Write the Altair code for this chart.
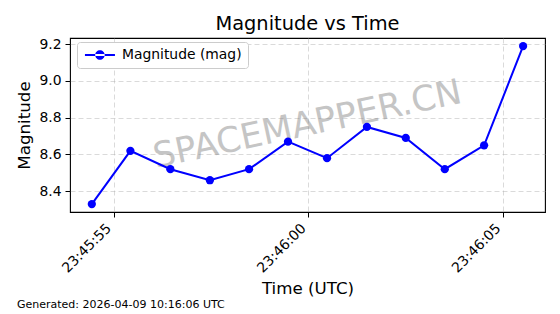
import altair as alt
import pandas as pd

# ---- data ----
times = [
    "2026-04-08T23:45:54.440Z", "2026-04-08T23:45:55.430Z", "2026-04-08T23:45:56.455Z",
    "2026-04-08T23:45:57.470Z", "2026-04-08T23:45:58.475Z", "2026-04-08T23:45:59.475Z",
    "2026-04-08T23:46:00.476Z", "2026-04-08T23:46:01.500Z", "2026-04-08T23:46:02.497Z",
    "2026-04-08T23:46:03.498Z", "2026-04-08T23:46:04.507Z", "2026-04-08T23:46:05.508Z",
]
mags = [8.33, 8.62, 8.52, 8.46, 8.52, 8.67, 8.58, 8.75, 8.69, 8.52, 8.65, 9.19]
series_name = "Magnitude (mag)"
x_ticks = ["2026-04-08T23:45:55Z", "2026-04-08T23:46:00Z", "2026-04-08T23:46:05Z"]
x_domain = ["2026-04-08T23:45:53.880Z", "2026-04-08T23:46:06.070Z"]
y_ticks = [8.4, 8.6, 8.8, 9.0, 9.2]
y_domain = [8.287, 9.234]
title_text = "Magnitude vs Time"
x_title = "Time (UTC)"
y_title = "Magnitude"
watermark_text = "SPACEMAPPER.CN"
footer_text = "Generated: 2026-04-09 10:16:06 UTC"


def ms(s):
    return int(pd.Timestamp(s).value // 10**6)


df = pd.DataFrame({"time": times, "mag": mags, "series": [series_name] * len(mags)})
wm_df = pd.DataFrame({"label": [watermark_text]})
ft_df = pd.DataFrame({"label": [footer_text]})
tt_df = pd.DataFrame({"label": [title_text]})

FONT = "DejaVu Sans"
W, H = 475, 174

x_enc = alt.X(
    "time:T",
    scale=alt.Scale(type="utc", domain=[ms(d) for d in x_domain]),
    axis=alt.Axis(
        values=[ms(t) for t in x_ticks],
        format="%H:%M:%S",
        labelAngle=315,
        labelAlign="right",
        labelBaseline="top",
        labelOffset=-10,
        title=x_title,
        titlePadding=6,
    ),
)
y_enc = alt.Y(
    "mag:Q",
    scale=alt.Scale(domain=y_domain, nice=False, zero=False),
    axis=alt.Axis(values=y_ticks, format=".1f", title=y_title, titlePadding=5),
)

# legend symbol: a line segment with a dot in its middle (unit = 5px with size 100)
legend_symbol = (
    "M-1,-0.21L5,-0.21L5,0.21L-1,0.21Z"
    "M1.05,0A0.95,0.95,0,1,0,2.95,0A0.95,0.95,0,1,0,1.05,0Z"
)

watermark = alt.Chart(wm_df).mark_text(
    font=FONT, fontSize=35, color="#808080", opacity=0.45,
    angle=348, align="center", baseline="middle",
).encode(x=alt.value(W / 2), y=alt.value(H / 2 - 0.5), text="label:N")

base = alt.Chart(df)
line = base.mark_line(color="#0000ff", strokeWidth=2).encode(x=x_enc, y=y_enc)
points = base.mark_circle(size=68, opacity=1).encode(
    x=x_enc,
    y=y_enc,
    color=alt.Color(
        "series:N",
        scale=alt.Scale(range=["#0000ff"]),
        legend=alt.Legend(
            title=None,
            orient="none",
            legendX=7,
            legendY=4,
            symbolType=legend_symbol,
            symbolSize=100,
            symbolStrokeWidth=0,
            symbolOpacity=1,
            labelOffset=25,
            padding=6,
            strokeColor="#cccccc",
            fillColor="white",
            cornerRadius=3,
            labelFont=FONT,
            labelFontSize=13.9,
            labelColor="black",
        ),
    ),
)

footer = alt.Chart(ft_df).mark_text(
    font=FONT, fontSize=11, color="black", align="left", baseline="alphabetic",
).encode(x=alt.value(17 - 70), y=alt.value(308 - 38), text="label:N")

title = alt.Chart(tt_df).mark_text(
    font=FONT, fontSize=19.4, color="black", align="center", baseline="alphabetic",
).encode(x=alt.value(W / 2), y=alt.value(30 - 38), text="label:N")

chart = (
    alt.layer(watermark, line, points, footer, title)
    .properties(
        width=W,
        height=H,
        autosize="none",
        padding={"left": 70, "top": 38, "right": 15, "bottom": 102},
    )
    .configure(background="white")
    .configure_view(stroke="black", strokeWidth=1.1)
    .configure_axis(
        labelFont=FONT, titleFont=FONT, labelFontSize=13.9, titleFontSize=16.7,
        labelColor="black", titleColor="black", titleFontWeight="normal",
        tickColor="black", tickSize=5, tickWidth=1, labelPadding=4,
        domain=False, grid=True, gridColor="#b0b0b0", gridOpacity=0.6,
        gridDash=[5, 3], gridWidth=0.8,
    )
)

chart.save("out.html", embed_options={"renderer": "svg", "actions": False})
